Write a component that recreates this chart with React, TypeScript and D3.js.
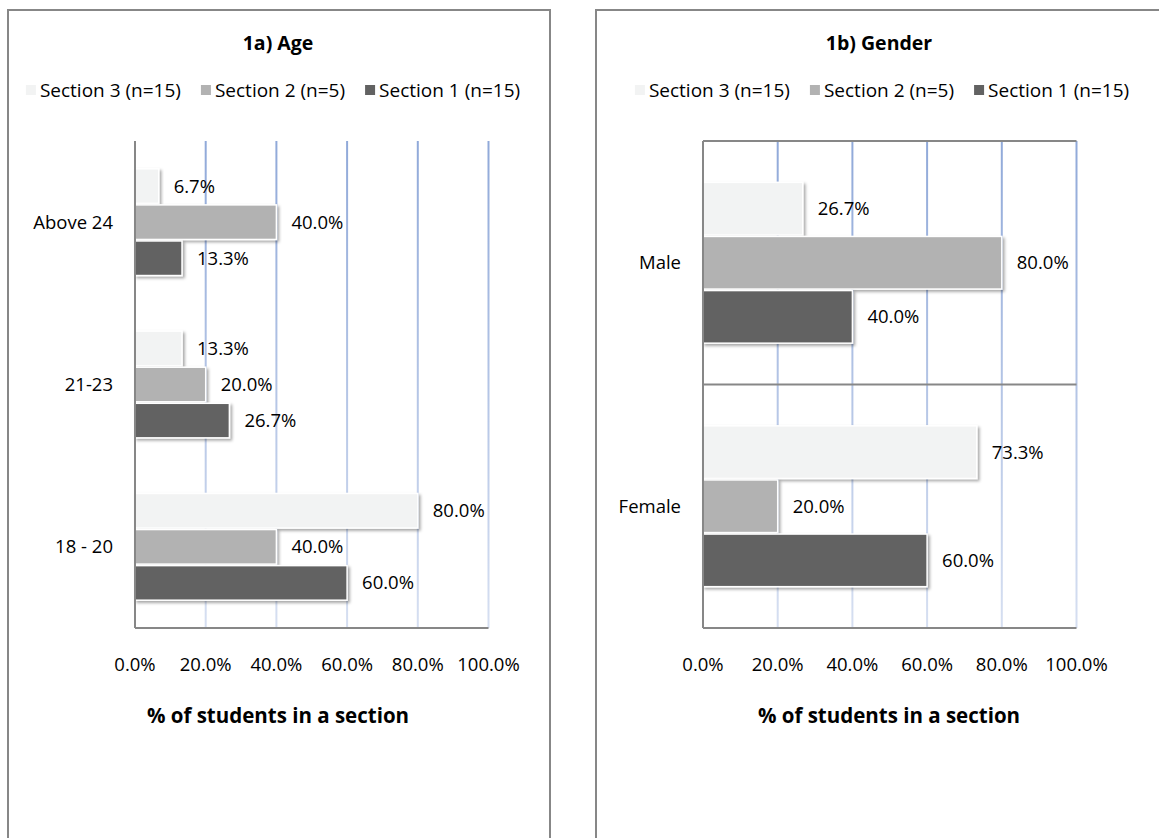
import React from "react";
import * as d3 from "d3";

// Series (drawn top to bottom inside each category band)
const seriesNames = ["Section 3 (n=15)", "Section 2 (n=5)", "Section 1 (n=15)"];
const seriesColors = ["#F2F3F3", "#B2B2B2", "#626262"];

// 1a) Age
const ageCategories = ["Above 24", "21-23", "18 - 20"];
const ageSection3 = [6.7, 13.3, 80.0];
const ageSection2 = [40.0, 20.0, 40.0];
const ageSection1 = [13.3, 26.7, 60.0];

// 1b) Gender
const genderCategories = ["Male", "Female"];
const genderSection3 = [26.7, 73.3];
const genderSection2 = [80.0, 20.0];
const genderSection1 = [40.0, 60.0];

const xTicks = [0, 20, 40, 60, 80, 100];

const FONT = "'Open Sans', Lato, sans-serif";
const LABEL_SIZE = 18.5;
const LEGEND_SIZE = 19;
const TITLE_SIZE = 19.5;
const AXIS_TITLE_SIZE = 20.5;

function measure(text: string, font: string): number {
  if (typeof document === "undefined") return text.length * 8;
  const c = document.createElement("canvas");
  const ctx = c.getContext("2d");
  if (!ctx) return text.length * 8;
  ctx.font = font;
  return ctx.measureText(text).width;
}

type PanelProps = {
  id: string;
  title: string;
  categories: string[];
  series: number[][];
  panelX: number;
  panelW: number;
  plotX0: number;
  plotX1: number;
  titleCx: number;
  legendCx: number;
  axisTitleCx: number;
  boxed: boolean;
};

function Panel(p: PanelProps) {
  const plotY0 = 141;
  const plotY1 = 628;
  const x = d3.scaleLinear().domain([0, 100]).range([p.plotX0, p.plotX1]);
  const yBand = d3
    .scaleBand<string>()
    .domain(p.categories)
    .range([plotY0, plotY1])
    .paddingInner(0)
    .paddingOuter(0);
  const bw = yBand.bandwidth();
  // three bars per band with a 150% gap width
  const slot = bw / 4.5;
  const inner = (i: number) => bw / 2 - 1.5 * slot + i * slot;

  const legendFont = `${LEGEND_SIZE}px ${FONT}`;
  const sq = 10;
  const items = seriesNames.map((n) => measure(n, legendFont));
  const itemW = items.map((w) => sq + 4 + w);
  const gap = 20;
  const totalW = d3.sum(itemW) + gap * (items.length - 1);
  let lx = p.legendCx - totalW / 2;
  const legendPos = itemW.map((w) => {
    const s = lx;
    lx += w + gap;
    return s;
  });

  const gradId = `grid-${p.id}`;
  const shadowId = `shadow-${p.id}`;

  return (
    <g>
      <defs>
        <linearGradient id={gradId} gradientUnits="userSpaceOnUse" x1="0" y1={plotY0} x2="0" y2={plotY1}>
          <stop offset="0" stopColor="#90A9D9" />
          <stop offset="1" stopColor="#D6DFF1" />
        </linearGradient>
        <filter id={shadowId} x="-10%" y="-20%" width="130%" height="160%">
          <feDropShadow dx="2" dy="2" stdDeviation="1.6" floodColor="#000" floodOpacity="0.35" />
        </filter>
      </defs>
      {/* chart frame */}
      <rect x={p.panelX} y={10} width={p.panelW} height={900} fill="#fff" stroke="#878787" strokeWidth={2} />

      <text x={p.titleCx} y={50} textAnchor="middle" fontFamily={FONT} fontWeight={700} fontSize={TITLE_SIZE} fill="#000">
        {p.title}
      </text>

      {/* legend */}
      {seriesNames.map((n, i) => (
        <g key={n} transform={`translate(${legendPos[i]},0)`}>
          <rect x={0} y={85} width={sq} height={sq} fill={seriesColors[i]} />
          <text x={sq + 4} y={90} dy="0.35em" fontFamily={FONT} fontSize={LEGEND_SIZE} fill="#000">
            {n}
          </text>
        </g>
      ))}

      {/* vertical gridlines */}
      {xTicks.slice(1).map((t) => (
        <line key={t} x1={x(t)} x2={x(t)} y1={plotY0} y2={plotY1} stroke={`url(#${gradId})`} strokeWidth={2} />
      ))}

      {/* category separators (boxed style) */}
      {p.boxed &&
        d3.range(p.categories.length + 1).map((i) => {
          const yy = plotY0 + i * bw;
          return <line key={i} x1={p.plotX0} x2={p.plotX1} y1={yy} y2={yy} stroke="#878787" strokeWidth={2} />;
        })}
      {!p.boxed && <line x1={p.plotX0} x2={p.plotX1} y1={plotY1} y2={plotY1} stroke="#878787" strokeWidth={2} />}

      {/* bars */}
      {p.categories.map((c, ci) =>
        p.series.map((vals, si) => {
          const v = vals[ci];
          const y0 = (yBand(c) ?? 0) + inner(si);
          return (
            <g key={`${c}-${si}`}>
              <rect
                x={x(0)}
                y={y0 + 0.75}
                width={x(v) - x(0)}
                height={slot - 1.5}
                fill={seriesColors[si]}
                stroke="#fff"
                strokeWidth={1.5}
                filter={`url(#${shadowId})`}
              />
              <text
                x={x(v) + 15}
                y={y0 + slot / 2}
                dy="0.35em"
                fontFamily={FONT}
                fontSize={LABEL_SIZE}
                fill="#000"
              >
                {v.toFixed(1) + "%"}
              </text>
            </g>
          );
        })
      )}

      {/* value axis line */}
      <line x1={p.plotX0} x2={p.plotX0} y1={plotY0} y2={plotY1} stroke="#878787" strokeWidth={2} />

      {/* category labels */}
      {p.categories.map((c) => (
        <text
          key={c}
          x={p.plotX0 - 22}
          y={(yBand(c) ?? 0) + bw / 2}
          dy="0.35em"
          textAnchor="end"
          fontFamily={FONT}
          fontSize={LABEL_SIZE}
          fill="#000"
        >
          {c}
        </text>
      ))}

      {/* tick labels */}
      {xTicks.map((t) => (
        <text key={t} x={x(t)} y={665} dy="0.35em" textAnchor="middle" fontFamily={FONT} fontSize={LABEL_SIZE} fill="#000">
          {t.toFixed(1) + "%"}
        </text>
      ))}

      <text x={p.axisTitleCx} y={723} textAnchor="middle" fontFamily={FONT} fontWeight={700} fontSize={AXIS_TITLE_SIZE} fill="#000">
        % of students in a section
      </text>
    </g>
  );
}

export default function App() {
  return (
    <svg
      width={1159}
      height={838}
      style={{ position: "absolute", left: 0, top: 0, display: "block" }}
    >
      <rect x={0} y={0} width={1159} height={838} fill="#fff" />
      <Panel
        id="age"
        title="1a) Age"
        categories={ageCategories}
        series={[ageSection3, ageSection2, ageSection1]}
        panelX={8}
        panelW={542}
        plotX0={135}
        plotX1={488.5}
        titleCx={278}
        legendCx={273}
        axisTitleCx={278}
        boxed={false}
      />
      <Panel
        id="gender"
        title="1b) Gender"
        categories={genderCategories}
        series={[genderSection3, genderSection2, genderSection1]}
        panelX={596}
        panelW={600}
        plotX0={703}
        plotX1={1076.5}
        titleCx={879}
        legendCx={882}
        axisTitleCx={889}
        boxed={true}
      />
    </svg>
  );
}
